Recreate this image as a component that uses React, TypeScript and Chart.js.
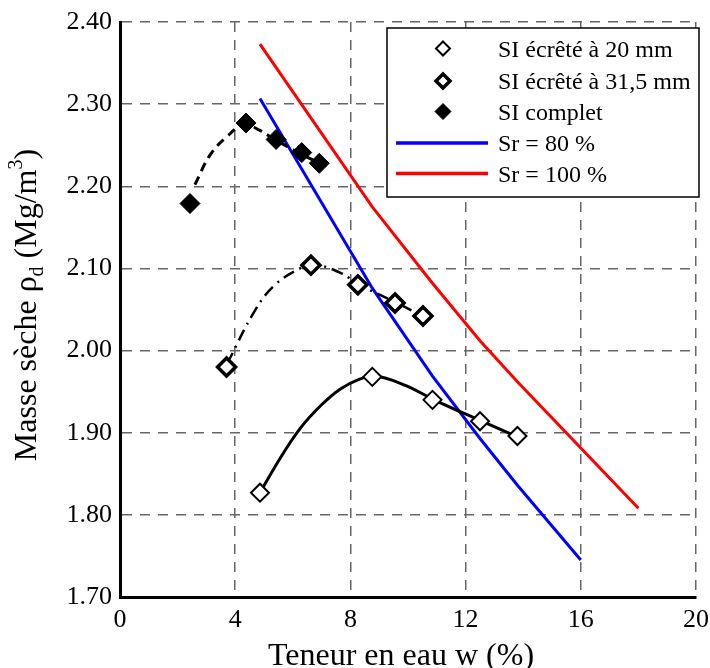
import React, { useEffect, useRef } from "react";
import { Chart, registerables } from "chart.js";

Chart.register(...registerables);

const FONT = '"Liberation Serif", "Times New Roman", Times, serif';

// Axis ticks
const xTicks = [0, 4, 8, 12, 16, 20];
const yTicks = [1.7, 1.8, 1.9, 2.0, 2.1, 2.2, 2.3, 2.4];
const yTickLabels = ["1.70", "1.80", "1.90", "2.00", "2.10", "2.20", "2.30", "2.40"];

// Measured points
const wSI20 = [4.86, 8.76, 10.85, 12.5, 13.8];
const rhoSI20 = [1.827, 1.968, 1.94, 1.914, 1.896];
const wSI315 = [3.7, 6.63, 8.26, 9.55, 10.52];
const rhoSI315 = [1.98, 2.104, 2.08, 2.058, 2.042];
const wSIc = [2.43, 4.375, 5.42, 6.31, 6.92];
const rhoSIc = [2.179, 2.277, 2.257, 2.241, 2.228];

// Fitted curves
const fit20W = [4.86, 5.56, 6.25, 7.0, 7.64, 8.3, 8.8, 9.95, 10.85, 12.5, 13.8];
const fit20R = [1.827, 1.869, 1.905, 1.934, 1.953, 1.965, 1.969, 1.957, 1.941, 1.915, 1.895];
const fit315W = [3.72, 4.69, 5.38, 6.25, 6.7, 7.64, 8.26, 9.55, 10.52];
const fit315R = [1.984, 2.049, 2.08, 2.1, 2.105, 2.095, 2.081, 2.059, 2.042];
const fitCW = [2.6, 3.125, 3.7, 4.3, 4.86, 5.32, 6.25, 6.92];
const fitCR = [2.202, 2.238, 2.26, 2.275, 2.268, 2.258, 2.24, 2.228];

// Saturation lines
const sr80W = [4.86, 8.76, 10.85, 12.5, 13.8, 16];
const sr80R = [2.307, 2.076, 1.969, 1.893, 1.836, 1.745];
const sr100W = [4.86, 8.76, 10.85, 12.5, 13.8, 18.0];
const sr100R = [2.373, 2.175, 2.082, 2.012, 1.962, 1.808];

const legendLabels = ["SI écrêté à 20 mm", "SI écrêté à 31,5 mm", "SI complet", "Sr = 80 %", "Sr = 100 %"];

const pts = (xs: number[], ys: number[]) => xs.map((x, i) => ({ x, y: ys[i] }));

function diamond(ctx: CanvasRenderingContext2D, x: number, y: number, r: number, fill: string, stroke: string, lw: number) {
  ctx.save();
  ctx.beginPath();
  ctx.moveTo(x, y - r);
  ctx.lineTo(x + r, y);
  ctx.lineTo(x, y + r);
  ctx.lineTo(x - r, y);
  ctx.closePath();
  ctx.fillStyle = fill;
  ctx.fill();
  ctx.lineWidth = lw;
  ctx.strokeStyle = stroke;
  ctx.lineJoin = "miter";
  ctx.stroke();
  ctx.restore();
}

const legendPlugin = {
  id: "customLegend",
  afterDraw(chart: any) {
    const ctx: CanvasRenderingContext2D = chart.ctx;
    ctx.save();
    const bx = 387, by = 28, bw = 312, bh = 169;
    ctx.fillStyle = "#fff";
    ctx.fillRect(bx, by, bw, bh);
    ctx.lineWidth = 1.5;
    ctx.strokeStyle = "#000";
    ctx.strokeRect(bx, by, bw, bh);
    const rows = [48.5, 81, 111.5, 143, 173.5];
    const mx = 443;
    diamond(ctx, mx, rows[0], 7, "#fff", "#000", 2);
    diamond(ctx, mx, rows[1], 7, "#fff", "#000", 3.5);
    diamond(ctx, mx, rows[2], 8, "#000", "#000", 1);
    ctx.lineWidth = 3.5;
    ctx.strokeStyle = "#0000ff";
    ctx.beginPath();
    ctx.moveTo(396, rows[3]);
    ctx.lineTo(488, rows[3]);
    ctx.stroke();
    ctx.strokeStyle = "#ff0000";
    ctx.beginPath();
    ctx.moveTo(396, rows[4]);
    ctx.lineTo(488, rows[4]);
    ctx.stroke();
    ctx.fillStyle = "#000";
    ctx.font = `24px ${FONT}`;
    ctx.textBaseline = "alphabetic";
    ctx.textAlign = "left";
    legendLabels.forEach((t, i) => ctx.fillText(t, 498, rows[i] + 8));
    ctx.restore();
  },
};

const titlePlugin = {
  id: "axisTitles",
  afterDraw(chart: any) {
    const ctx: CanvasRenderingContext2D = chart.ctx;
    ctx.save();
    ctx.fillStyle = "#000";
    ctx.textBaseline = "alphabetic";
    // x title
    ctx.font = `32px ${FONT}`;
    ctx.textAlign = "center";
    ctx.fillText("Teneur en eau w (%)", 401, 665);
    // y title with sub/superscript
    const segs = [
      { t: "Masse sèche ρ", size: 32, dy: 0 },
      { t: "d", size: 20, dy: 7 },
      { t: " (Mg/m", size: 32, dy: 0 },
      { t: "3", size: 20, dy: -14 },
      { t: ")", size: 32, dy: 0 },
    ];
    let total = 0;
    const widths = segs.map((s) => {
      ctx.font = `${s.size}px ${FONT}`;
      const w = ctx.measureText(s.t).width;
      total += w;
      return w;
    });
    ctx.translate(36, 305);
    ctx.rotate(-Math.PI / 2);
    ctx.textAlign = "left";
    let x = -total / 2;
    segs.forEach((s, i) => {
      ctx.font = `${s.size}px ${FONT}`;
      ctx.fillText(s.t, x, s.dy);
      x += widths[i];
    });
    ctx.restore();
  },
};

export default function App() {
  const ref = useRef<HTMLCanvasElement>(null);
  useEffect(() => {
    const canvas = ref.current;
    if (!canvas) return;
    const gridCommon = { color: "#666666", lineWidth: 1.5, drawTicks: false };
    const borderCommon = { display: true, color: "#000", width: 3, dash: [10, 8] };
    const chart = new Chart(canvas, {
      type: "scatter",
      data: {
        datasets: [
          {
            label: legendLabels[0],
            data: pts(wSI20, rhoSI20),
            showLine: false,
            pointStyle: "rectRot",
            pointRadius: 9,
            pointBorderWidth: 2,
            pointBackgroundColor: "#fff",
            pointBorderColor: "#000",
            order: 1,
          },
          {
            label: legendLabels[1],
            data: pts(wSI315, rhoSI315),
            showLine: false,
            pointStyle: "rectRot",
            pointRadius: 9,
            pointBorderWidth: 3.5,
            pointBackgroundColor: "#fff",
            pointBorderColor: "#000",
            order: 1,
          },
          {
            label: legendLabels[2],
            data: pts(wSIc, rhoSIc),
            showLine: false,
            pointStyle: "rectRot",
            pointRadius: 10,
            pointBorderWidth: 1,
            pointBackgroundColor: "#000",
            pointBorderColor: "#000",
            order: 1,
          },
          {
            label: "fit20",
            data: pts(fit20W, fit20R),
            showLine: true,
            pointRadius: 0,
            borderColor: "#000",
            borderWidth: 3,
            cubicInterpolationMode: "monotone",
            order: 2,
          },
          {
            label: "fit315",
            data: pts(fit315W, fit315R),
            showLine: true,
            pointRadius: 0,
            borderColor: "#000",
            borderWidth: 2.5,
            borderDash: [12, 6, 2, 6],
            tension: 0.4,
            order: 2,
          },
          {
            label: "fitC",
            data: pts(fitCW, fitCR),
            showLine: true,
            pointRadius: 0,
            borderColor: "#000",
            borderWidth: 3,
            borderDash: [9, 6],
            tension: 0.4,
            order: 2,
          },
          {
            label: legendLabels[3],
            data: pts(sr80W, sr80R),
            showLine: true,
            pointRadius: 0,
            borderColor: "#0000ff",
            borderWidth: 3,
            tension: 0,
            order: 3,
          },
          {
            label: legendLabels[4],
            data: pts(sr100W, sr100R),
            showLine: true,
            pointRadius: 0,
            borderColor: "#ff0000",
            borderWidth: 3,
            tension: 0,
            order: 3,
          },
        ],
      },
      options: {
        responsive: false,
        animation: false,
        devicePixelRatio: 1,
        layout: { padding: { top: 22, right: 14, left: 0, bottom: 0 } },
        plugins: {
          legend: { display: false },
          tooltip: { enabled: false },
          title: { display: false },
        },
        scales: {
          x: {
            type: "linear",
            min: 0,
            max: 20,
            afterBuildTicks: (s: any) => {
              s.ticks = xTicks.map((v) => ({ value: v }));
            },
            afterFit: (s: any) => {
              s.height = 71;
              s.paddingRight = 0;
              s.paddingLeft = 0;
            },
            ticks: {
              font: { family: FONT, size: 26 },
              color: "#000",
              padding: 8,
              maxRotation: 0,
              autoSkip: false,
              callback: (v: any) => String(v),
            },
            grid: gridCommon,
            border: borderCommon,
          },
          y: {
            type: "linear",
            min: 1.7,
            max: 2.4,
            afterBuildTicks: (s: any) => {
              s.ticks = yTicks.map((v) => ({ value: v }));
            },
            afterFit: (s: any) => {
              s.width = 120;
              s.paddingTop = 0;
              s.paddingBottom = 0;
            },
            ticks: {
              font: { family: FONT, size: 26 },
              color: "#000",
              padding: 8,
              autoSkip: false,
              callback: (v: any, i: number) => yTickLabels[i],
            },
            grid: gridCommon,
            border: borderCommon,
          },
        },
      },
      plugins: [legendPlugin, titlePlugin],
    } as any);
    return () => chart.destroy();
  }, []);
  return (
    <div style={{ position: "absolute", left: 0, top: 0, width: 710, height: 668, background: "#fff" }}>
      <canvas ref={ref} width={710} height={668} style={{ display: "block", width: 710, height: 668 }} />
    </div>
  );
}
